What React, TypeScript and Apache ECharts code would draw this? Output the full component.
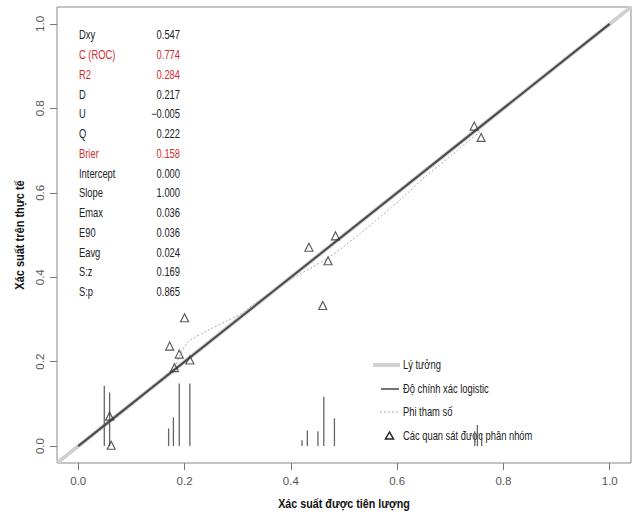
import React, { useEffect, useRef } from "react";
import * as echarts from "echarts";

// Axis ticks
const axisTicks = [0, 0.2, 0.4, 0.6, 0.8, 1.0];
const axisMin = -0.04;
const axisMax = 1.04;

// Grouped observations (triangles)
const groupedPred = [0.059, 0.062, 0.172, 0.19, 0.181, 0.2, 0.21, 0.434, 0.484, 0.47, 0.46, 0.745, 0.758];
const groupedObs = [0.071, 0.002, 0.237, 0.218, 0.186, 0.304, 0.204, 0.471, 0.498, 0.439, 0.333, 0.758, 0.731];

// Nonparametric (lowess) curve
const lowessX = [0.049, 0.08, 0.12, 0.16, 0.181, 0.195, 0.207, 0.244, 0.307, 0.331, 0.395, 0.47, 0.527, 0.608, 0.652, 0.705, 0.759];
const lowessY = [0.045, 0.075, 0.118, 0.162, 0.188, 0.225, 0.247, 0.274, 0.314, 0.337, 0.391, 0.446, 0.5, 0.586, 0.637, 0.692, 0.748];

// Distribution spikes of predicted probabilities
const spikeX = [0.049, 0.059, 0.17, 0.179, 0.19, 0.21, 0.421, 0.431, 0.451, 0.462, 0.482, 0.746, 0.751, 0.759];
const spikeH = [0.143, 0.127, 0.042, 0.068, 0.148, 0.148, 0.014, 0.037, 0.035, 0.117, 0.066, 0.035, 0.05, 0.028];

// Ideal and logistic calibration lines
const idealX = [-0.04, 1.04];
const logisticX = [0, 1];
const logisticIntercept = 0.0;
const logisticSlope = 1.0;

// Statistics table
const statLabels = ["Dxy", "C (ROC)", "R2", "D", "U", "Q", "Brier", "Intercept", "Slope", "Emax", "E90", "Eavg", "S:z", "S:p"];
const statValues = ["0.547", "0.774", "0.284", "0.217", "-0.005", "0.222", "0.158", "0.000", "1.000", "0.036", "0.036", "0.024", "0.169", "0.865"];
const statHighlight = [false, true, true, false, false, false, true, false, false, false, false, false, false, false];

const legendLabels = ["Lý tưởng", "Độ chính xác logistic", "Phi tham số", "Các quan sát được phân nhóm"];
const xTitle = "Xác suất được tiên lượng";
const yTitle = "Xác suất trên thực tế";

const FONT = "'Liberation Sans', Arial, sans-serif";
const RED = "#d02b2b";
const SX = 0.78;

export default function App() {
  const ref = useRef<HTMLDivElement>(null);
  useEffect(() => {
    if (!ref.current) return;
    const chart = echarts.init(ref.current, undefined, { renderer: "svg" });

    const graphics: any[] = [];
    statLabels.forEach((lab, i) => {
      const y = 35 + i * 19.75;
      const col = statHighlight[i] ? RED : "#222";
      graphics.push({
        type: "text", x: 79, y, scaleX: SX,
        style: { text: lab, fill: col, font: `12px ${FONT}`, textAlign: "left", textVerticalAlign: "middle" },
      });
      graphics.push({
        type: "text", x: 180, y, scaleX: SX,
        style: { text: statValues[i].replace("-", "\u2212"), fill: col, font: `12px ${FONT}`, textAlign: "right", textVerticalAlign: "middle" },
      });
    });
    const legY = [365, 389, 412, 436];
    graphics.push({ type: "line", shape: { x1: 373, y1: legY[0], x2: 400, y2: legY[0] }, style: { stroke: "#d0d0d0", lineWidth: 4 } });
    graphics.push({ type: "line", shape: { x1: 381, y1: legY[1], x2: 399, y2: legY[1] }, style: { stroke: "#444", lineWidth: 1.5 } });
    graphics.push({ type: "line", shape: { x1: 380, y1: legY[2], x2: 399, y2: legY[2] }, style: { stroke: "#aaa", lineWidth: 1, lineDash: [2, 2] } });
    graphics.push({ type: "polygon", shape: { points: [[389.5, legY[3] - 4], [385.5, legY[3] + 3], [393.5, legY[3] + 3]] }, style: { fill: "none", stroke: "#222", lineWidth: 1.5 } });
    legendLabels.forEach((lab, i) => {
      graphics.push({
        type: "text", x: 403, y: legY[i], scaleX: SX,
        style: { text: lab, fill: "#222", font: `12px ${FONT}`, textAlign: "left", textVerticalAlign: "middle" },
      });
    });
    // Axis titles
    graphics.push({
      type: "text", x: 344, y: 503, scaleX: 0.86,
      style: { text: xTitle, fill: "#111", font: `bold 12.5px ${FONT}`, textAlign: "center", textVerticalAlign: "middle" },
    });
    graphics.push({
      type: "text", x: 19, y: 235, rotation: Math.PI / 2, scaleX: 0.88,
      style: { text: yTitle, fill: "#111", font: `bold 12.5px ${FONT}`, textAlign: "center", textVerticalAlign: "middle" },
    });

    const axisCommon = (isY: boolean) => ({
      type: "value",
      min: axisMin,
      max: axisMax,
      splitLine: { show: false },
      axisLine: { show: false, onZero: false },
      axisTick: { show: true, length: 7, inside: false, customValues: axisTicks, lineStyle: { color: "#777" } },
      axisLabel: {
        customValues: axisTicks,
        formatter: (v: number) => v.toFixed(1),
        fontFamily: FONT,
        fontSize: 11.5,
        color: "#555",
        margin: isY ? 11 : 12,
        rotate: isY ? 90 : 0,
      },
    });

    chart.setOption({
      animation: false,
      backgroundColor: "#fff",
      grid: { left: 57, top: 7, width: 574, height: 456, show: true, borderColor: "#888", borderWidth: 1, backgroundColor: "transparent" },
      xAxis: axisCommon(false),
      yAxis: axisCommon(true),
      graphic: graphics,
      series: [
        {
          type: "line", name: legendLabels[0],
          data: idealX.map((x) => [x, x]),
          showSymbol: false, clip: true,
          lineStyle: { color: "#d0d0d0", width: 4 },
          z: 1,
        },
        {
          type: "custom", name: "spikes",
          data: spikeX.map((x, i) => [x, spikeH[i]]),
          renderItem: (params: any, api: any) => {
            const p0 = api.coord([api.value(0), 0]);
            const p1 = api.coord([api.value(0), api.value(1)]);
            return { type: "line", shape: { x1: p0[0], y1: p0[1], x2: p1[0], y2: p1[1] }, style: { stroke: "#666", lineWidth: 1.3 } };
          },
          z: 2,
        },
        {
          type: "line", name: legendLabels[2],
          data: lowessX.map((x, i) => [x, lowessY[i]]),
          showSymbol: false, smooth: 0.3,
          lineStyle: { color: "#aaa", width: 1, type: [2, 2] },
          z: 3,
        },
        {
          type: "line", name: legendLabels[1],
          data: logisticX.map((x) => [x, logisticIntercept + logisticSlope * x]),
          showSymbol: false,
          lineStyle: { color: "#4a4a4a", width: 2 },
          z: 4,
        },
        {
          type: "scatter", name: legendLabels[3],
          data: groupedPred.map((x, i) => [x, groupedObs[i]]),
          symbol: "triangle", symbolSize: 8,
          itemStyle: { color: "rgba(255,255,255,0)", borderColor: "#333", borderWidth: 1.2 },
          z: 5,
        },
      ],
    });
    return () => chart.dispose();
  }, []);
  return <div ref={ref} style={{ position: "absolute", left: 0, top: 0, width: 636, height: 514 }} />;
}
